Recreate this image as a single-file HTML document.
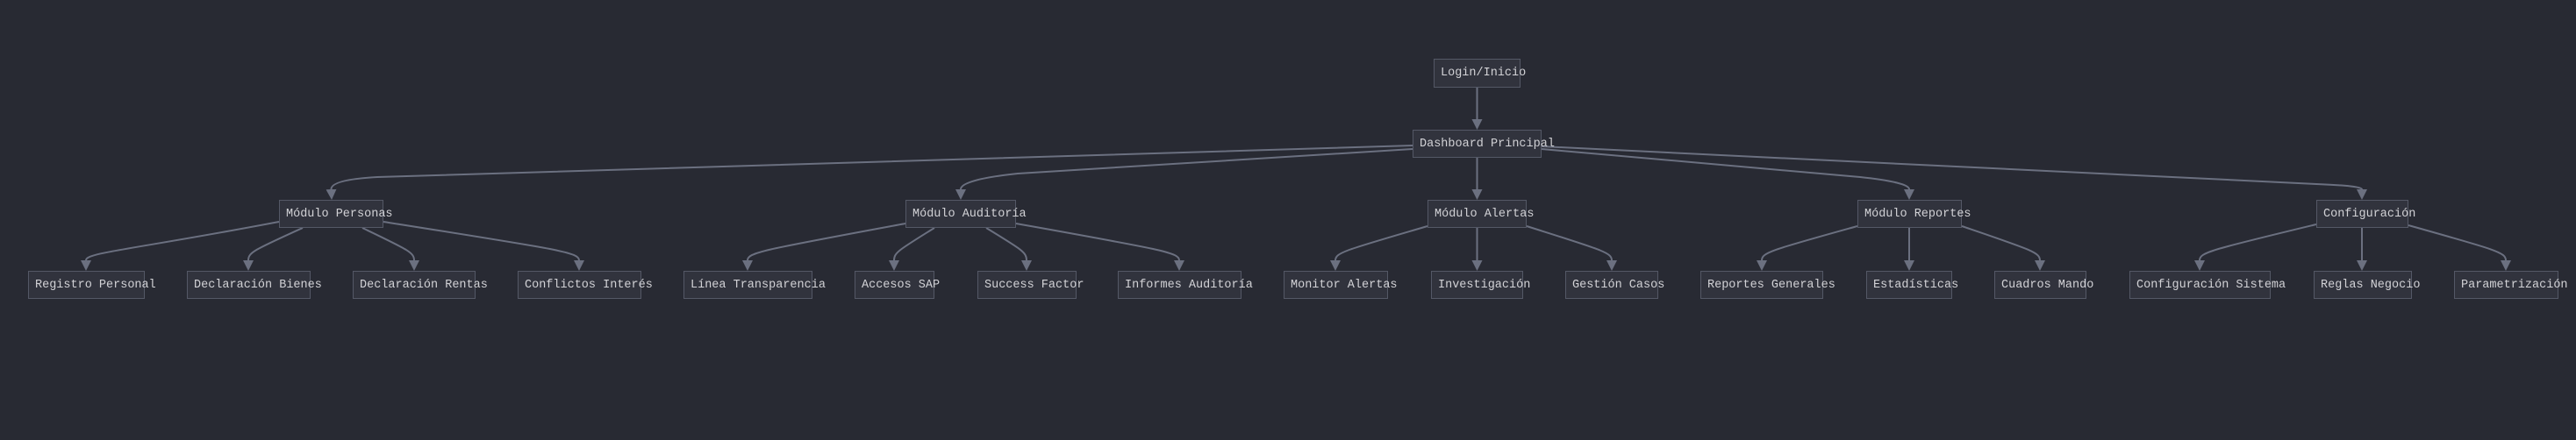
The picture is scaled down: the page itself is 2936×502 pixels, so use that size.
<!DOCTYPE html>
<html><head><meta charset="utf-8"><style>
html,body{margin:0;padding:0;background:#282a33;}
body{width:2936px;height:502px;position:relative;overflow:hidden;}
svg{position:absolute;left:0;top:0;}
.n{position:absolute;box-sizing:border-box;background:#31333d;border:1.5px solid #545866;color:#d2d2d6;font-family:"Liberation Mono","DejaVu Sans Mono",monospace;font-size:13.5px;white-space:nowrap;padding-left:7px;display:flex;align-items:center;overflow:visible;}
</style></head><body>
<svg width="2936" height="502">
<defs><marker id="a" viewBox="0 0 10 10" refX="0" refY="5" markerWidth="12" markerHeight="12" markerUnits="userSpaceOnUse" orient="auto"><path d="M0,0 L10,5 L0,10 z" fill="#6b7080"/></marker></defs>
<g fill="none" stroke="#6b7080" stroke-width="2" marker-end="url(#a)">
<path d="M1683.5,100 V136"/>
<path d="M1610,166 L430,202 Q377,205 377.5,216"/>
<path d="M1610,170 L1160,198 Q1095,205 1095,216"/>
<path d="M1683.5,180 V216"/>
<path d="M1757,170 L2120,202 Q2176,208 2176,216"/>
<path d="M1757,167 L2640,210 Q2692,212 2692,216"/>
<path d="M318,253 C150,285 98,288 98,297"/>
<path d="M345,260 C290,285 283,288 283,297"/>
<path d="M413,260 C465,285 472,288 472,297"/>
<path d="M437,253 C640,285 660,288 660,297"/>
<path d="M1032,255 C870,285 852,288 852,297"/>
<path d="M1065,260 C1025,285 1019,288 1019,297"/>
<path d="M1124,260 C1165,285 1170,288 1170,297"/>
<path d="M1158,255 C1325,285 1344,288 1344,297"/>
<path d="M1627,258 C1535,285 1522,288 1522,297"/>
<path d="M1683.5,260 V297"/>
<path d="M1740,258 C1825,285 1837,288 1837,297"/>
<path d="M2117,258 C2020,285 2008,288 2008,297"/>
<path d="M2176,260 V297"/>
<path d="M2236,258 C2315,285 2325,288 2325,297"/>
<path d="M2640,256 C2520,285 2507,288 2507,297"/>
<path d="M2692,260 V297"/>
<path d="M2745,257 C2845,285 2856,288 2856,297"/>
</g>
</svg>
<div class="n" style="left:1634px;top:67px;width:99px;height:33px">Login/Inicio</div>
<div class="n" style="left:1610px;top:148px;width:147px;height:32px">Dashboard Principal</div>
<div class="n" style="left:318px;top:228px;width:119px;height:32px">Módulo Personas</div>
<div class="n" style="left:1032px;top:228px;width:126px;height:32px">Módulo Auditoría</div>
<div class="n" style="left:1627px;top:228px;width:113px;height:32px">Módulo Alertas</div>
<div class="n" style="left:2117px;top:228px;width:119px;height:32px">Módulo Reportes</div>
<div class="n" style="left:2640px;top:228px;width:105px;height:32px">Configuración</div>
<div class="n" style="left:32px;top:309px;width:133px;height:32px">Registro Personal</div>
<div class="n" style="left:213px;top:309px;width:141px;height:32px">Declaración Bienes</div>
<div class="n" style="left:402px;top:309px;width:140px;height:32px">Declaración Rentas</div>
<div class="n" style="left:590px;top:309px;width:141px;height:32px">Conflictos Interés</div>
<div class="n" style="left:779px;top:309px;width:147px;height:32px">Línea Transparencia</div>
<div class="n" style="left:974px;top:309px;width:91px;height:32px">Accesos SAP</div>
<div class="n" style="left:1114px;top:309px;width:113px;height:32px">Success Factor</div>
<div class="n" style="left:1274px;top:309px;width:141px;height:32px">Informes Auditoría</div>
<div class="n" style="left:1463px;top:309px;width:119px;height:32px">Monitor Alertas</div>
<div class="n" style="left:1631px;top:309px;width:105px;height:32px">Investigación</div>
<div class="n" style="left:1784px;top:309px;width:106px;height:32px">Gestión Casos</div>
<div class="n" style="left:1938px;top:309px;width:140px;height:32px">Reportes Generales</div>
<div class="n" style="left:2127px;top:309px;width:98px;height:32px">Estadísticas</div>
<div class="n" style="left:2273px;top:309px;width:105px;height:32px">Cuadros Mando</div>
<div class="n" style="left:2427px;top:309px;width:161px;height:32px">Configuración Sistema</div>
<div class="n" style="left:2637px;top:309px;width:112px;height:32px">Reglas Negocio</div>
<div class="n" style="left:2797px;top:309px;width:119px;height:32px">Parametrización</div>
</body></html>
